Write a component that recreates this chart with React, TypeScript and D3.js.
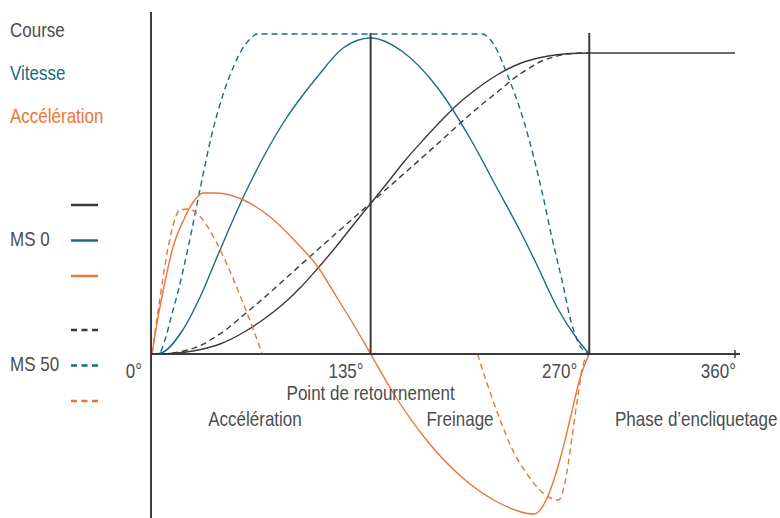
import React, { useEffect, useRef } from "react";
import * as d3 from "d3";

const W = 780;
const H = 518;

// cam angle axis
const tickAngles = [0, 135, 270, 360];
const tickLabels = ["0°", "135°", "270°", "360°"];
const phaseAngles = [135, 270];

// Course (stroke)
const courseMs0Deg = [0, 11, 20, 30, 42, 57, 70, 81, 92, 102, 114, 124, 135, 146, 156, 168, 179, 189, 200, 213, 228, 240, 250, 259, 270, 300, 330, 360];
const courseMs0 = [0, 0.5, 1.8, 4.5, 10, 22, 36, 50, 67, 85, 108, 128.5, 150.5, 172.5, 193, 215, 234, 250, 264.5, 279, 291, 296.5, 299.2, 300.5, 301, 301, 301, 301];
const courseMs50Deg = [0, 8, 16, 22, 30, 37, 47, 54, 65, 100, 135, 170, 204, 216, 223, 233, 240, 248, 254, 262, 270];
const courseMs50 = [0, 0.2, 1.7, 4, 8.5, 15, 26, 35.5, 50.4, 101, 151, 201, 250, 265.5, 275, 286, 292.5, 297, 299.3, 300.8, 301];

// Vitesse (speed)
const vitesseMs0Deg = [0, 5, 19, 30, 42, 57, 81, 102, 118, 135, 155, 176, 197, 213, 228, 238, 250, 263, 270];
const vitesseMs0 = [0, 0.7, 24, 58, 104, 159, 231, 277, 306, 316, 302, 267, 214, 166, 121, 88, 47, 14, 0];
const vitesseMs50Deg = [0, 4, 8, 12, 16.3, 22.4, 29.7, 37, 44, 50, 55, 60.5, 65, 135, 204, 208, 212, 219, 229.4, 241, 247, 253.4, 258.5, 264.7, 270];
const vitesseMs50 = [0, 0, 14, 38, 64, 107, 165, 220, 260, 286, 303, 315, 320, 320, 320, 316, 307, 281, 234, 161, 116, 72, 34, 7, 0];

// Accélération
const accelMs0Deg = [0, 3, 7, 13, 19.5, 25.5, 31.5, 40, 56.5, 73, 89.5, 102, 114, 126.5, 135, 149, 170, 190.5, 211, 226, 232, 236, 241, 246, 252, 258.5, 264.5, 270];
const accelMs0 = [0, 30, 64, 107, 134, 152, 161, 161, 154, 137, 111, 88, 57, 24, 0, -39, -87, -122, -146, -157, -159.5, -160, -153, -136, -105, -63, -23, 0];
const accelMs50Deg = [0, 5, 10, 14, 17, 22, 30, 39, 47, 55.5, 62, 68, 135, 201, 207, 215, 223, 232, 240, 246, 251, 254, 257, 260, 263, 266, 270];
const accelMs50 = [0, 57, 107, 134, 144, 145, 137, 114, 87, 54, 27, 0, null, 0, -30, -66, -97, -121, -137, -144, -146, -136, -110, -75, -42, -12, 0];

const legendNames = ["Course", "Vitesse", "Accélération"];
const groupNames = ["MS 0", "MS 50"];
const phaseNames = ["Point de retournement", "Accélération", "Freinage", "Phase d’encliquetage"];

const DARK = "#3b3b3b";
const TEAL = "#1b6a88";
const ORANGE = "#ea7538";
const TEXT = "#4d4d4d";
const FONT = "'Liberation Sans', Arial, sans-serif";
const NARROW = 0.85; // mimic the condensed face of the original

export default function App() {
  const ref = useRef<SVGSVGElement>(null);

  useEffect(() => {
    document.body.style.margin = "0";
    const svg = d3.select(ref.current);
    svg.selectAll("*").remove();

    const x = d3.scaleLinear().domain([0, 360]).range([152, 735]);
    const y = d3.scaleLinear().domain([-164, 342]).range([518, 12]);

    // condensed text helper
    const label = (str: string, tx: number, ty: number, anchor = "start", color = TEXT) =>
      svg
        .append("text")
        .attr("transform", `translate(${tx},${ty}) scale(${NARROW},1)`)
        .attr("text-anchor", anchor)
        .attr("fill", color)
        .text(str);

    const series = [
      { deg: courseMs0Deg, val: courseMs0, color: DARK, dash: null },
      { deg: courseMs50Deg, val: courseMs50, color: DARK, dash: "6,4" },
      { deg: vitesseMs0Deg, val: vitesseMs0, color: TEAL, dash: null },
      { deg: vitesseMs50Deg, val: vitesseMs50, color: TEAL, dash: "6,4" },
      { deg: accelMs0Deg, val: accelMs0, color: ORANGE, dash: null },
      { deg: accelMs50Deg, val: accelMs50, color: ORANGE, dash: "6,4" },
    ];

    const line = d3
      .line<[number, number | null]>()
      .defined((d) => d[1] !== null)
      .x((d) => x(d[0]))
      .y((d) => y(d[1] as number))
      .curve(d3.curveMonotoneX);

    // curves
    svg
      .append("g")
      .selectAll("path")
      .data(series)
      .join("path")
      .attr("d", (s) => line(s.deg.map((a, i) => [a, s.val[i]] as [number, number | null])))
      .attr("fill", "none")
      .attr("stroke", (s) => s.color)
      .attr("stroke-width", 1.4)
      .attr("stroke-dasharray", (s) => s.dash);

    // axes
    const axes = svg.append("g").attr("stroke", DARK).attr("stroke-width", 2);
    axes.append("line").attr("x1", 151).attr("x2", 151).attr("y1", 12).attr("y2", H);
    axes.append("line").attr("x1", 151).attr("x2", 740).attr("y1", y(0)).attr("y2", y(0));
    axes
      .append("line")
      .attr("stroke-width", 1.5)
      .attr("x1", x(360))
      .attr("x2", x(360))
      .attr("y1", y(0) - 4)
      .attr("y2", y(0) + 4);
    axes
      .selectAll("line.phase")
      .data(phaseAngles)
      .join("line")
      .attr("class", "phase")
      .attr("x1", (d) => x(d))
      .attr("x2", (d) => x(d))
      .attr("y1", 33)
      .attr("y2", y(0));

    // tick labels
    const tickShift = [-10, -7, -12, 1];
    tickAngles.forEach((t, i) => label(tickLabels[i], x(t) + tickShift[i], 378, "end"));

    // phase annotations
    label(phaseNames[0], x(135), 400, "middle");
    label(phaseNames[1], 255, 426, "middle");
    label(phaseNames[2], 460, 426, "middle");
    label(phaseNames[3], 615, 426, "start");

    // legend: quantity names
    const nameColors = [TEXT, TEAL, ORANGE];
    legendNames.forEach((n, i) => label(n, 10, 37 + i * 43, "start", nameColors[i]));

    // legend: MS groups with line samples
    const sampleColors = [DARK, TEAL, ORANGE];
    groupNames.forEach((g, gi) => {
      const top = gi === 0 ? 205 : 330;
      label(g, 10, top + 41);
      svg
        .append("g")
        .selectAll("line")
        .data(sampleColors)
        .join("line")
        .attr("x1", 71)
        .attr("x2", 98)
        .attr("y1", (d, i) => top + i * 35.5)
        .attr("y2", (d, i) => top + i * 35.5)
        .attr("stroke", (d) => d)
        .attr("stroke-width", 2.5)
        .attr("stroke-dasharray", gi === 0 ? null : "6,4.5");
    });
  }, []);

  return (
    <svg
      ref={ref}
      width={W}
      height={H}
      style={{ display: "block", background: "#fff" }}
      fontFamily={FONT}
      fontSize={20}
      fill={TEXT}
    />
  );
}
